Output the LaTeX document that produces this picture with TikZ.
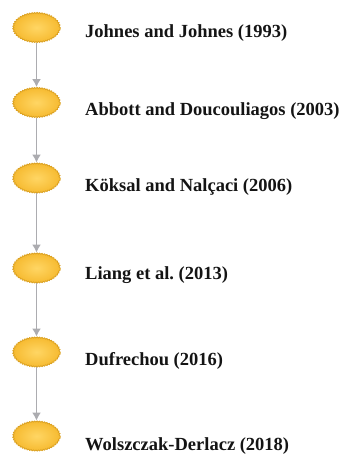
\documentclass[tikz,border=0pt]{standalone}
\usepackage{fontspec}
\setmainfont{Liberation Serif}
\usetikzlibrary{arrows.meta,shapes.geometric,decorations.pathmorphing}
\definecolor{nodefill}{RGB}{246,186,48}
\definecolor{nodelight}{RGB}{255,214,100}
\definecolor{noderim}{RGB}{220,162,34}
\definecolor{linkgray}{RGB}{172,172,176}
\definecolor{textdark}{RGB}{20,20,20}
\begin{document}
\frenchspacing
\begin{tikzpicture}[x=1pt,y=-1pt,
  yearnode/.style={ellipse, minimum width=47pt, minimum height=30pt, inner sep=0pt,
    draw=noderim, line width=0.8pt, inner color=nodelight, outer color=nodefill,
    decorate, decoration={bumps, segment length=5pt, amplitude=1pt}},
  reflabel/.style={anchor=base west, font=\bfseries\fontsize{18.5}{20}\selectfont,
    inner sep=0pt, text=textdark},
  link/.style={draw=linkgray, line width=1.6pt, -{Latex[length=8pt,width=9pt]}}]
\useasboundingbox (0,0) rectangle (345,455);
\node[yearnode] (n1) at (36.5,27.5) {};
\node[yearnode] (n2) at (36.5,102.5) {};
\node[yearnode] (n3) at (36.5,178) {};
\node[yearnode] (n4) at (36.5,268) {};
\node[yearnode] (n5) at (36.5,352) {};
\node[yearnode] (n6) at (36.5,436) {};
\node[reflabel] (t1) at (85,37) {Johnes and Johnes (1993)};
\node[reflabel] (t2) at (85,115) {Abbott and Doucouliagos (2003)};
\node[reflabel] (t3) at (85,191) {Köksal and Nalçaci (2006)};
\node[reflabel] (t4) at (85,279) {Liang et al. (2013)};
\node[reflabel] (t5) at (85,365) {Dufrechou (2016)};
\node[reflabel] (t6) at (85,450) {Wolszczak-Derlacz (2018)};
\draw[link] (n1) -- (n2);
\draw[link] (n2) -- (n3);
\draw[link] (n3) -- (n4);
\draw[link] (n4) -- (n5);
\draw[link] (n5) -- (n6);
\end{tikzpicture}
\end{document}
